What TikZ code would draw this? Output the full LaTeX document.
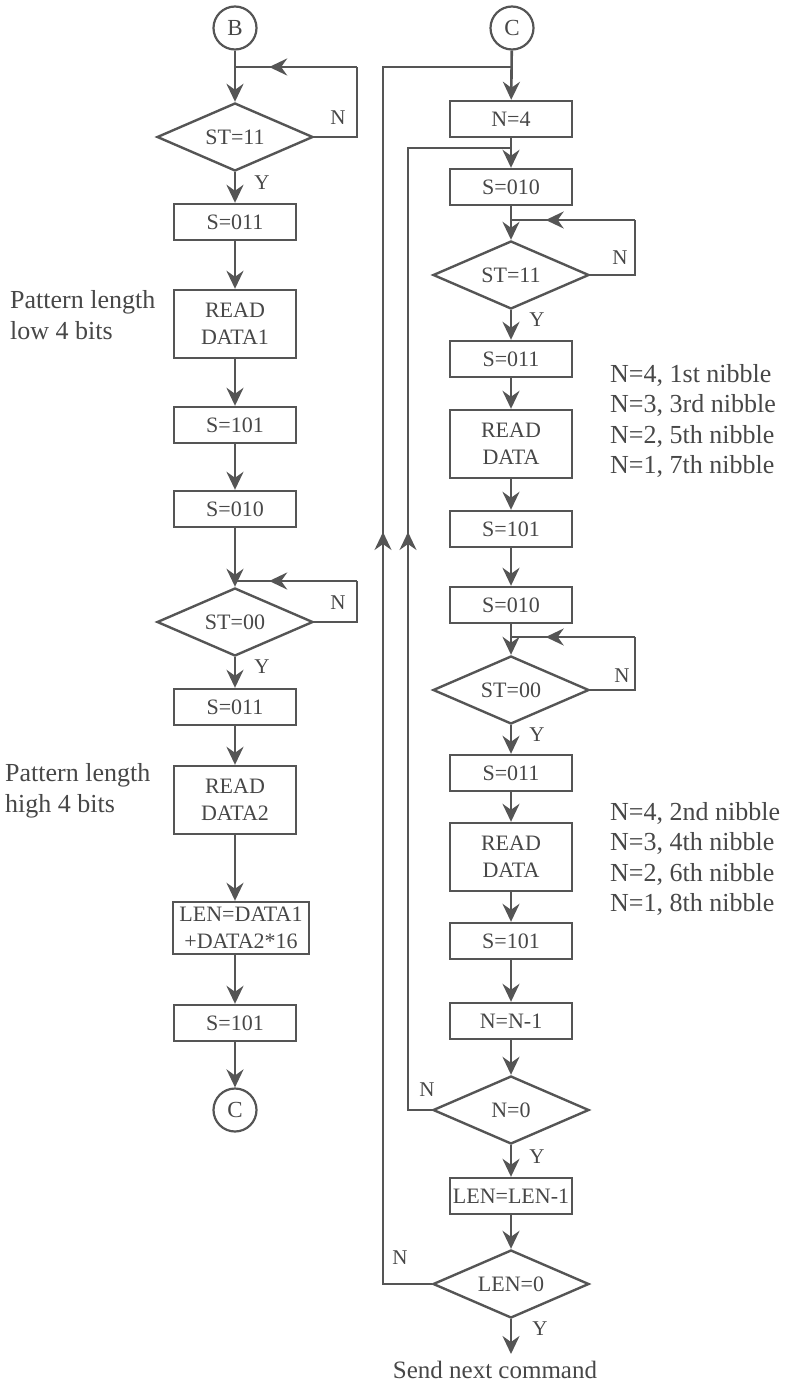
\documentclass[tikz,border=0pt]{standalone}
\usepackage{fontspec}
\setmainfont{Liberation Serif}
\usetikzlibrary{shapes.geometric,arrows.meta,calc}
\definecolor{ink}{HTML}{555555}
\definecolor{txt}{HTML}{474747}
\begin{document}
\begin{tikzpicture}[x=1pt,y=-1pt,
  wire/.style={draw=ink, line width=2.6pt},
  arr/.style={wire, -{Stealth[length=18pt,width=17pt,inset=6pt]}},
  stepbox/.style={draw=ink, line width=2.4pt, minimum width=122pt, minimum height=36pt, inner sep=1pt, align=center, text=txt, font=\fontsize{22}{27}\selectfont},
  tallbox/.style={stepbox, minimum height=68pt},
  decide/.style={diamond, draw=ink, line width=2.4pt, minimum width=156pt, minimum height=68pt, aspect=2.3, inner sep=0pt, text=txt, font=\fontsize{22}{27}\selectfont},
  conn/.style={circle, draw=ink, line width=2.2pt, minimum size=43pt, inner sep=0pt, text=txt, font=\fontsize{23}{27}\selectfont},
  lab/.style={text=txt, font=\fontsize{21}{24}\selectfont, inner sep=0pt},
  note/.style={text=txt, font=\fontsize{26}{30.5}\selectfont, align=left, inner sep=0pt, anchor=west}
]
\useasboundingbox (0,0) rectangle (793,1383);

% ---------------- left column ----------------
\node[conn] (B) at (235,28) {B};
\node[decide] (L1) at (235,137) {ST=11};
\node[stepbox] (L2) at (235,222) {S=011};
\node[tallbox] (L3) at (235,324) {READ\\DATA1};
\node[stepbox] (L4) at (235,425) {S=101};
\node[stepbox] (L5) at (235,509) {S=010};
\node[decide] (L6) at (235,622) {ST=00};
\node[stepbox] (L7) at (235,707) {S=011};
\node[tallbox] (L8) at (235,800) {READ\\DATA2};
\node[stepbox, minimum width=136pt, minimum height=52pt] (L9) at (241,928) {LEN=DATA1\\+DATA2*16};
\node[stepbox] (L10) at (235,1023) {S=101};
\node[conn] (C1) at (235,1110) {C};

\coordinate (ja) at (235,67);
\coordinate (ka) at (357,67);
\coordinate (jb) at (235,581);
\coordinate (kb) at (357,581);

\draw[arr] (B) -- (L1);
\draw[wire] (L1.east) -| (ka);
\draw[arr] (ka) -- ($(ka)!0.72!(ja)$);
\draw[wire] ($(ka)!0.7!(ja)$) -- (ja);
\draw[arr] (L1) -- (L2);
\draw[arr] (L2) -- (L3);
\draw[arr] (L3) -- (L4);
\draw[arr] (L4) -- (L5);
\draw[arr] (L5) -- (L6);
\draw[wire] (L6.east) -| (kb);
\draw[arr] (kb) -- ($(kb)!0.72!(jb)$);
\draw[wire] ($(kb)!0.7!(jb)$) -- (jb);
\draw[arr] (L6) -- (L7);
\draw[arr] (L7) -- (L8);
\draw[arr] (L8.south) -- (L8.south |- L9.north);
\draw[arr] (L8.south |- L9.south) -- (L10);
\draw[arr] (L10) -- (C1);

\node[lab] (yL1) at (262,183) {Y};
\node[lab] (nL1) at (338,118) {N};
\node[lab] (yL6) at (262,667) {Y};
\node[lab] (nL6) at (338,603) {N};

\node[note] (pa) at (10,315) {Pattern length\\low 4 bits};
\node[note] (pb) at (5,791) {Pattern length\\high 4 bits};

% ---------------- right column ----------------
\node[conn] (C2) at (512,28) {C};
\node[stepbox] (R1) at (511,119) {N=4};
\node[stepbox] (R2) at (511,187) {S=010};
\node[decide] (R3) at (511,275) {ST=11};
\node[stepbox] (R4) at (511,359) {S=011};
\node[tallbox] (R5) at (511,444) {READ\\DATA};
\node[stepbox] (R6) at (511,529) {S=101};
\node[stepbox] (R7) at (511,605) {S=010};
\node[decide] (R8) at (511,690) {ST=00};
\node[stepbox] (R9) at (511,773) {S=011};
\node[tallbox] (R10) at (511,857) {READ\\DATA};
\node[stepbox] (R11) at (511,941) {S=101};
\node[stepbox] (R12) at (511,1021) {N=N-1};
\node[decide] (R13) at (511,1110) {N=0};
\node[stepbox] (R14) at (511,1196) {LEN=LEN-1};
\node[decide] (R15) at (511,1284) {LEN=0};
\node[text=txt, font=\fontsize{25}{31}\selectfont, inner sep=0pt] (send) at (495,1370) {Send next command};

\coordinate (jc) at (511,220);
\coordinate (kc) at (635,220);
\coordinate (jd) at (511,637);
\coordinate (kd) at (635,637);
\coordinate (jo) at (511,67);
\coordinate (ji) at (511,148);
\coordinate (uo) at (383,532);
\coordinate (ui) at (408,532);
\coordinate (endp) at (511,1354);

\draw[arr] (C2) -- (R1);
\draw[arr] (R1) -- (R2);
\draw[arr] (R2) -- (R3);
\draw[wire] (R3.east) -| (kc);
\draw[arr] (kc) -- ($(kc)!0.72!(jc)$);
\draw[wire] ($(kc)!0.7!(jc)$) -- (jc);
\draw[arr] (R3) -- (R4);
\draw[arr] (R4) -- (R5);
\draw[arr] (R5) -- (R6);
\draw[arr] (R6) -- (R7);
\draw[arr] (R7) -- (R8);
\draw[wire] (R8.east) -| (kd);
\draw[arr] (kd) -- ($(kd)!0.72!(jd)$);
\draw[wire] ($(kd)!0.7!(jd)$) -- (jd);
\draw[arr] (R8) -- (R9);
\draw[arr] (R9) -- (R10);
\draw[arr] (R10) -- (R11);
\draw[arr] (R11) -- (R12);
\draw[arr] (R12) -- (R13);
\draw[arr] (R13) -- (R14);
\draw[arr] (R14) -- (R15);
\draw[arr] (R15) -- (endp);

% return loops
\draw[arr] (R13.west) -| (ui);
\draw[wire] ($(ui)+(0,2)$) |- (ji);
\draw[arr] (R15.west) -| (uo);
\draw[wire] ($(uo)+(0,2)$) |- (jo);

\node[lab] (yR3) at (537,320) {Y};
\node[lab] (nR3) at (620,258) {N};
\node[lab] (yR8) at (537,735) {Y};
\node[lab] (nR8) at (622,676) {N};
\node[lab] (yR13) at (537,1157) {Y};
\node[lab] (nR13) at (427,1090) {N};
\node[lab] (yR15) at (540,1329) {Y};
\node[lab] (nR15) at (400,1258) {N};

\node[note] (na) at (610,421) {N=4, 1st nibble\\N=3, 3rd nibble\\N=2, 5th nibble\\N=1, 7th nibble};
\node[note] (nb) at (610,859) {N=4, 2nd nibble\\N=3, 4th nibble\\N=2, 6th nibble\\N=1, 8th nibble};
\end{tikzpicture}
\end{document}
